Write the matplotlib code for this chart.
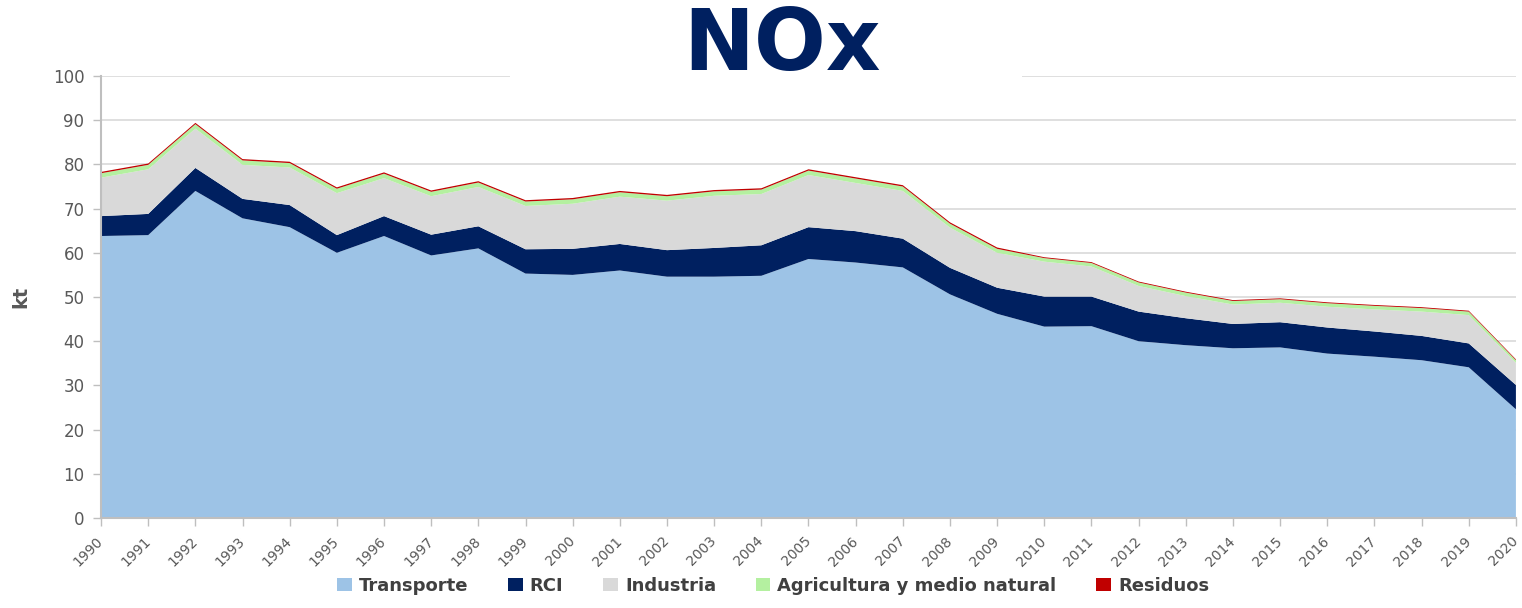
import matplotlib
matplotlib.use("Agg")
import matplotlib.pyplot as plt
from matplotlib.patches import Patch, Rectangle
import numpy as np

# NOx emissions by sector (kt)
years = list(range(1990, 2021))
transporte = [63.8, 64.0, 74.0, 67.8, 65.8, 60.0, 63.8, 59.4, 61.0, 55.3,
              55.0, 56.0, 54.6, 54.6, 54.8, 58.6, 57.8, 56.7, 50.6, 46.2,
              43.3, 43.4, 40.0, 39.1, 38.4, 38.6, 37.2, 36.5, 35.7, 34.1, 24.6]
rci = [4.5, 4.8, 5.2, 4.4, 5.0, 4.0, 4.5, 4.7, 5.0, 5.5,
       5.9, 6.0, 6.0, 6.5, 6.9, 7.2, 7.1, 6.5, 6.0, 5.9,
       6.8, 6.7, 6.7, 6.1, 5.5, 5.7, 5.9, 5.7, 5.5, 5.4, 5.5]
industria = [8.7, 10.1, 8.9, 7.7, 8.5, 9.5, 8.6, 8.7, 8.9, 9.8,
             10.2, 10.7, 11.2, 11.8, 11.6, 11.8, 10.9, 10.8, 9.1, 7.9,
             7.9, 6.8, 5.8, 5.0, 4.4, 4.4, 4.7, 5.0, 5.5, 6.4, 5.0]
agricultura = [1.0] * 18 + [0.9] * 2 + [0.8] * 10 + [0.6]
residuos = [0.3] * 20 + [0.2] * 11

labels = ["Transporte", "RCI", "Industria", "Agricultura y medio natural", "Residuos"]
colors = ["#9DC3E6", "#002060", "#D9D9D9", "#B4F0A0", "#C00000"]

grey = "#595959"

fig = plt.figure(figsize=(15.22, 6.08), dpi=100)
ax = fig.add_axes([0.0664, 0.148, 0.9296, 0.727])

ax.stackplot(years, transporte, rci, industria, agricultura, residuos,
             colors=colors, linewidth=0, zorder=2)

ax.set_xlim(1990, 2020)
ax.set_ylim(0, 100)
ax.set_yticks(np.arange(0, 101, 10))
ax.set_xticks(years)
ax.set_xticklabels([str(y) for y in years], rotation=45, ha="right",
                   va="center", rotation_mode="anchor", fontsize=10, color=grey)
ax.tick_params(axis="y", labelsize=12, colors=grey, length=6, width=1,
               color="#BFBFBF", pad=6)
ax.tick_params(axis="x", length=6, width=1, color="#BFBFBF", pad=9)
ax.grid(axis="y", color="#D9D9D9", linewidth=1.2, zorder=0)
ax.set_axisbelow(True)

for side in ["top", "right"]:
    ax.spines[side].set_visible(False)
for side in ["left", "bottom"]:
    ax.spines[side].set_color("#BFBFBF")
    ax.spines[side].set_linewidth(1.5)

ax.set_ylabel("kt", fontsize=14, fontweight="bold", color=grey, labelpad=16)

# white strip behind the title hides part of the top gridline
fig.patches.append(Rectangle((510 / 1522, 1 - 82 / 608), 512 / 1522, 14 / 608,
                             transform=fig.transFigure, facecolor="white",
                             edgecolor="none", zorder=5))
fig.text(0.514, 1 - 70 / 608, "NOx", ha="center", va="baseline", fontsize=61,
         fontweight="bold", color="#002060", family="DejaVu Sans", zorder=6)

handles = [Patch(facecolor=c, edgecolor="none") for c in colors]
leg = fig.legend(handles, labels, loc="lower center", ncol=5,
                 bbox_to_anchor=(0.508, -0.005), frameon=False,
                 handlelength=0.8, handleheight=0.8, handletextpad=0.4,
                 columnspacing=2.2, prop={"size": 13, "weight": "bold"})
for t in leg.get_texts():
    t.set_color("#404040")

fig.savefig("out.png", dpi=100)
